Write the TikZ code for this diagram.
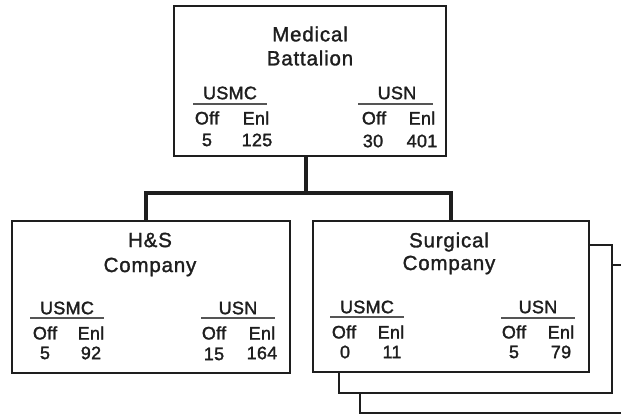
\documentclass[tikz,border=0pt]{standalone}
\usepackage{fontspec}
\setmainfont{Liberation Sans}
\newfontfamily\hvy[FakeBold=1.6,LetterSpace=1.5]{Liberation Sans}
\newfontfamily\hvt[FakeBold=1.4,LetterSpace=4]{Liberation Sans}
\definecolor{ink}{HTML}{1E1E1E}
\definecolor{rulegrey}{HTML}{555555}
\begin{document}
\begin{tikzpicture}[x=1pt,y=-1pt,
  box/.style={draw=ink,line width=2pt,fill=white,inner sep=0pt,minimum width=#1},
  conn/.style={draw=ink,line width=3.6pt},
  title/.style={text=ink,font=\hvt\fontsize{20.5}{22}\selectfont,inner sep=0pt},
  lbl/.style={text=ink,font=\hvy\fontsize{18}{19}\selectfont,inner sep=0pt},
  hrule/.style={draw=rulegrey,line width=1.3pt}]
\useasboundingbox[fill=white] (0,0) rectangle (621,417);
% stacked back boxes
\begin{scope}
\clip (0,0) rectangle (621,417);
\node[box=275pt,minimum height=148pt] (back2) at (497.5,339) {};
\node[box=273pt,minimum height=148pt] (back1) at (475.5,319) {};
\end{scope}
% main boxes
\node[box=272pt,minimum height=150pt] (top) at (310,81) {};
\node[box=278pt,minimum height=152pt] (hs) at (151,297) {};
\node[box=276pt,minimum height=151pt] (surg) at (451,296.5) {};
% connectors
\coordinate (bus) at (306,193);
\draw[conn] ([xshift=-4pt]top.south) -- ([xshift=-4pt]top.south |- bus);
\draw[conn] ([xshift=-5pt]hs.north) |- (surg.north |- bus) -- (surg.north);
% top box text
\node[title] (t1) at (310,34) {Medical};
\node[title] (t2) at (310,58) {Battalion};
\node[lbl] (tu) at (230,93) {USMC};
\coordinate (tua) at (193,104); \coordinate (tub) at (267,104);
\draw[hrule] (tua) -- (tub);
\node[lbl] (to1) at (207,118) {Off};
\node[lbl] (te1) at (256,118) {Enl};
\node[lbl] (tv1) at (207,140) {5};
\node[lbl] (tv2) at (257,140) {125};
\node[lbl] (tn) at (397,93) {USN};
\coordinate (tna) at (358,104); \coordinate (tnb) at (433,104);
\draw[hrule] (tna) -- (tnb);
\node[lbl] (to2) at (374,118) {Off};
\node[lbl] (te2) at (422,118) {Enl};
\node[lbl] (tv3) at (373,141) {30};
\node[lbl] (tv4) at (422,141) {401};
% H&S text
\node[title] (h1) at (150,240) {H\&S};
\node[title] (h2) at (150,267) {Company};
\node[lbl] (hu) at (67,308) {USMC};
\coordinate (hua) at (30,318); \coordinate (hub) at (104,318);
\draw[hrule] (hua) -- (hub);
\node[lbl] (ho1) at (45,333) {Off};
\node[lbl] (he1) at (91,333) {Enl};
\node[lbl] (hv1) at (45,353) {5};
\node[lbl] (hv2) at (91,353) {92};
\node[lbl] (hn) at (238,308) {USN};
\coordinate (hna) at (201,318); \coordinate (hnb) at (275,318);
\draw[hrule] (hna) -- (hnb);
\node[lbl] (ho2) at (214,333) {Off};
\node[lbl] (he2) at (262,333) {Enl};
\node[lbl] (hv3) at (214,354) {15};
\node[lbl] (hv4) at (262,353) {164};
% Surgical text
\node[title] (s1) at (449,242) {Surgical};
\node[title] (s2) at (449,265) {Company};
\node[lbl] (su) at (367,307) {USMC};
\coordinate (sua) at (330,317); \coordinate (sub) at (404,317);
\draw[hrule] (sua) -- (sub);
\node[lbl] (so1) at (344,332) {Off};
\node[lbl] (se1) at (391,332) {Enl};
\node[lbl] (sv1) at (345,352) {0};
\node[lbl] (sv2) at (392,352) {11};
\node[lbl] (sn) at (538,307) {USN};
\coordinate (sna) at (501,318); \coordinate (snb) at (575,318);
\draw[hrule] (sna) -- (snb);
\node[lbl] (so2) at (514,332) {Off};
\node[lbl] (se2) at (561,332) {Enl};
\node[lbl] (sv3) at (514,352) {5};
\node[lbl] (sv4) at (561,352) {79};
\end{tikzpicture}
\end{document}
